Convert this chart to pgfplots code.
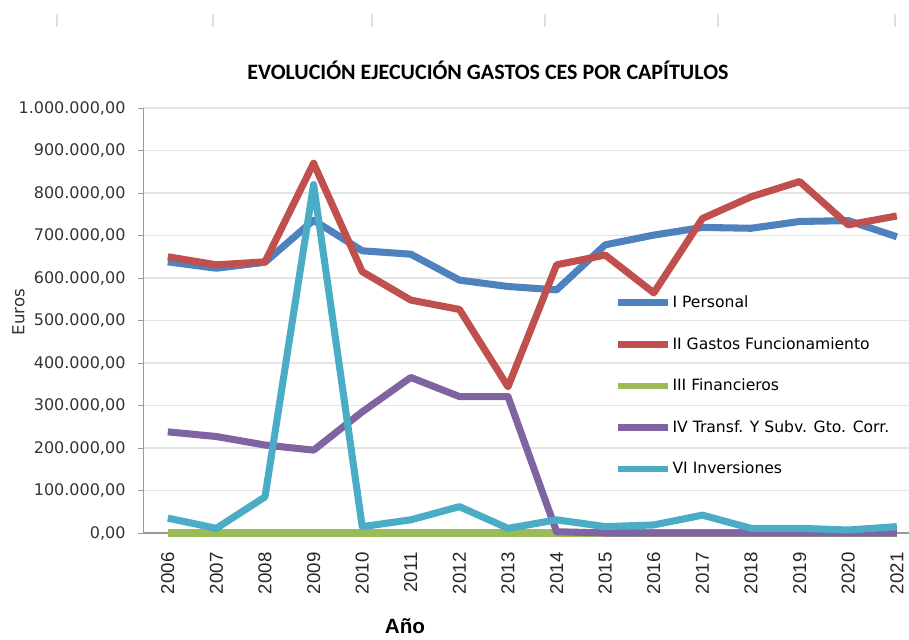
\documentclass[border=0pt]{standalone}
\usepackage{pgfplots}
\pgfplotsset{compat=1.18}
\usepackage{fontspec}
\setmainfont{DejaVu Sans}
\newfontfamily\titlefont{Carlito}
\newfontfamily\arialfont{Liberation Sans}
\definecolor{cBlue}{HTML}{4F81BD}
\definecolor{cRed}{HTML}{C0504D}
\definecolor{cGreen}{HTML}{9BBB59}
\definecolor{cPurple}{HTML}{8064A2}
\definecolor{cCyan}{HTML}{4BACC6}
\definecolor{gridc}{HTML}{E4E4E4}
\definecolor{axc}{HTML}{9A9A9A}
\begin{document}
\begin{tikzpicture}[x=0.75pt,y=0.75pt]
\begin{axis}[
  at={(0,0)}, anchor=south west,
  scale only axis,
  width=574.1pt, height=318.75pt,
  xmin=-0.5, xmax=15.25,
  ymin=0, ymax=1000000,
  axis x line*=bottom,
  axis y line*=left,
  axis line style={axc, line width=0.8pt},
  xtick={0,...,15},
  xticklabels={2006,2007,2008,2009,2010,2011,2012,2013,2014,2015,2016,2017,2018,2019,2020,2021},
  major x tick style={draw=none},
  extra x ticks={-0.5,0.5,1.5,2.5,3.5,4.5,5.5,6.5,7.5,8.5,9.5,10.5,11.5,12.5,13.5,14.5},
  extra x tick labels={},
  extra x tick style={major tick length=4.5pt, tick style={axc, line width=0.7pt}, tick align=outside, grid=none},
  xticklabel shift=10.5pt,
  xticklabel style={font=\arialfont\fontsize{14}{15}\selectfont, rotate=90, anchor=east, inner sep=0pt, color=black!85},
  ytick={0,100000,...,1000000},
  ymajorgrids,
  grid style={gridc, line width=0.8pt},
  ytick style={axc, line width=0.7pt},
  tick align=outside,
  major tick length=4pt,
  scaled y ticks=false,
  yticklabel shift=6pt,
  yticklabel style={font=\fontsize{12}{13}\selectfont, color=black!80, /pgf/number format/.cd, fixed, fixed zerofill, precision=2, 1000 sep={.}, dec sep={,}, assume math mode=true},
  clip=false,
  legend cell align=left,
  legend style={at={(0.615,0.562)}, anchor=north west, draw=none, fill=none,
    font=\fontsize{11.7}{13}\selectfont, row sep=18.8pt, inner sep=0pt,
    nodes={inner sep=1pt}},
  legend image code/.code={\draw[#1, line width=5pt] (0pt,0pt) -- (37.5pt,0pt);},
  every axis plot/.append style={line width=5.3pt, line join=round},
]
\addplot[cBlue] coordinates {(0,638000)(1,623000)(2,637000)(3,736000)(4,664000)(5,656000)(6,595000)(7,580000)(8,572000)(9,678000)(10,701000)(11,719000)(12,717000)(13,733000)(14,735000)(15,697000)};
\addlegendentry{I Personal}
\addplot[cRed] coordinates {(0,650000)(1,631000)(2,638000)(3,870000)(4,615000)(5,548000)(6,526000)(7,344000)(8,631000)(9,654000)(10,565000)(11,740000)(12,791000)(13,827000)(14,725000)(15,746000)};
\addlegendentry{II Gastos Funcionamiento}
\addplot[cGreen] coordinates {(0,0)(1,0)(2,0)(3,0)(4,0)(5,0)(6,0)(7,0)(8,0)(9,0)(10,0)(11,0)(12,0)(13,0)(14,0)(15,0)};
\addlegendentry{III Financieros}
\addplot[cPurple] coordinates {(0,238000)(1,227000)(2,207000)(3,195000)(4,285000)(5,366000)(6,321000)(7,321000)(8,3000)(9,0)(10,0)(11,0)(12,0)(13,0)(14,0)(15,0)};
\addlegendentry{IV Transf. Y Subv. Gto. Corr.}
\addplot[cCyan] coordinates {(0,35000)(1,11000)(2,85000)(3,820000)(4,15000)(5,31000)(6,62000)(7,11000)(8,31000)(9,15000)(10,19000)(11,42000)(12,11000)(13,11000)(14,7000)(15,15000)};
\addlegendentry{VI Inversiones}
\end{axis}
\node[font=\titlefont\bfseries\fontsize{16.5}{18}\selectfont] at (344.5,463) {EVOLUCIÓN EJECUCIÓN GASTOS CES POR CAPÍTULOS};
\node[font=\fontsize{12.5}{14}\selectfont, rotate=90, color=black!80] at (-125,221) {Euros};
\node[font=\arialfont\bfseries\fontsize{15.5}{17}\selectfont] at (261.5,-93) {Año};
\foreach \xx in {57,213,372,545,718,895} {\draw[black!12, line width=0.8pt] (\xx-143.5,533-14) -- (\xx-143.5,533-27);}
\pgfresetboundingbox
\path[use as bounding box] (-143.5,-106) rectangle (765.5,533);
\end{tikzpicture}
\end{document}
